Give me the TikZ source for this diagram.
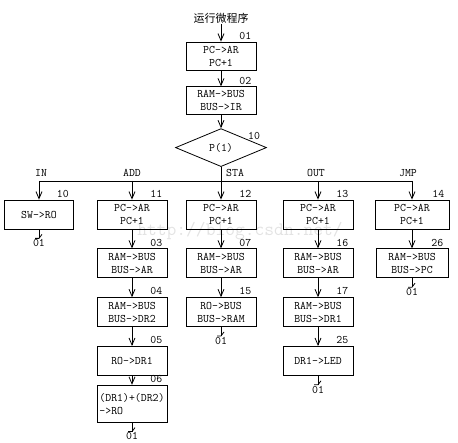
\documentclass[tikz,border=0pt]{standalone}
\usepackage{fontspec}
\newfontfamily\cjk{Noto Sans CJK SC}
\usetikzlibrary{positioning,shapes.geometric,arrows.meta,calc}

\newcommand{\boxfont}{\fontsize{11.5}{13}\selectfont\ttfamily}
% stub that jumps back to 01
\newcommand{\backtoone}[1]{%
  \draw[line] (#1.south) -- ++(0,-9) coordinate (#1end);
  \draw[line] ($(#1end)+(-4,0)$) -- (#1end) -- ++(3,4);
  \node[tag, below=1pt of #1end] (#1ret) {01};
}

\begin{document}
\begin{tikzpicture}[
  x=1pt, y=1pt,
  node distance=19pt,
  line/.style={line width=0.8pt},
  box/.style={rectangle, draw, line width=0.8pt, minimum width=70pt, minimum height=29pt, inner sep=1pt, align=center, font=\boxfont},
  dia/.style={diamond, draw, line width=0.8pt, aspect=2.4, minimum width=91pt, minimum height=38pt, inner sep=0pt, font=\boxfont},
  tag/.style={inner sep=0pt, font=\boxfont},
  num/.style={label={[tag, anchor=south east, xshift=-5pt, yshift=2pt]north east:#1}},
  arrow/.style={line, -{Straight Barb[length=7pt,width=6pt]}}
]
\useasboundingbox (0,0) rectangle (458,443);
\node[text=gray!22, font=\ttfamily\fontsize{19}{19}\selectfont] (mark) at (240,212) {http://blog.csdn.net/};

\node[font={\cjk\fontsize{11}{13}\selectfont}, inner sep=1pt] (title) at (221,425) {运行微程序};
\node[box, num=01, minimum height=28pt] (s01) at (221,387) {PC->AR\\PC+1};
\node[box, num=02, minimum height=28pt, below=16pt of s01] (s02) {RAM->BUS\\BUS->IR};
\node[dia, below=13pt of s02] (p1) {P(1)};
\node[tag] (p1n) at ($(p1)+(33,12)$) {10};
\draw[arrow] (title) -- (s01);
\draw[arrow] (s01) -- (s02);
\draw[arrow] (s02) -- (p1);

% branch bus
\coordinate (bIN) at (39,262);
\coordinate (bADD) at (132,262);
\coordinate (bSTA) at (p1 |- bIN);
\coordinate (bOUT) at (318,262);
\coordinate (bJMP) at (412,262);
\draw[line] (p1.south) -- (bSTA);
\draw[line] (bIN) -- (bJMP);
\node[tag, above=4pt of bIN, xshift=2pt] (lIN) {IN};
\node[tag, above=4pt of bADD] (lADD) {ADD};
\node[tag, above right=4pt and 5pt of bSTA] (lSTA) {STA};
\node[tag, above=4pt of bOUT, xshift=-2pt] (lOUT) {OUT};
\node[tag, above=4pt of bJMP, xshift=-4pt] (lJMP) {JMP};

% IN
\node[box, num=10, minimum width=69pt] (s10) at (39,228.5) {SW->RO};
\draw[arrow] (bIN) -- (s10);
\backtoone{s10}

% ADD
\node[box, num=11] (s11) at (132,228.5) {PC->AR\\PC+1};
\node[box, num=03, below=of s11] (s03) {RAM->BUS\\BUS->AR};
\node[box, num=04, below=of s03] (s04) {RAM->BUS\\BUS->DR2};
\node[box, num=05, below=of s04] (s05) {RO->DR1};
\node[box, num=06, align=left, minimum height=37pt, below=9pt of s05] (s06) {(DR1)+(DR2)\\->RO};
\draw[arrow] (bADD) -- (s11);
\draw[arrow] (s11) -- (s03);
\draw[arrow] (s03) -- (s04);
\draw[arrow] (s04) -- (s05);
\draw[arrow] (s05) -- (s06);
\backtoone{s06}

% STA
\node[box, num=12] (s12) at (bSTA |- s11) {PC->AR\\PC+1};
\node[box, num=07, below=of s12] (s07) {RAM->BUS\\BUS->AR};
\node[box, num=15, below=of s07] (s15) {RO->BUS\\BUS->RAM};
\draw[arrow] (bSTA) -- (s12);
\draw[arrow] (s12) -- (s07);
\draw[arrow] (s07) -- (s15);
\backtoone{s15}

% OUT
\node[box, num=13] (s13) at (318,228.5) {PC->AR\\PC+1};
\node[box, num=16, below=of s13] (s16) {RAM->BUS\\BUS->AR};
\node[box, num=17, below=of s16] (s17) {RAM->BUS\\BUS->DR1};
\node[box, num=25, below=of s17] (s25) {DR1->LED};
\draw[arrow] (bOUT) -- (s13);
\draw[arrow] (s13) -- (s16);
\draw[arrow] (s16) -- (s17);
\draw[arrow] (s17) -- (s25);
\backtoone{s25}

% JMP
\node[box, num=14, minimum width=74pt] (s14) at (412,228.5) {PC->AR\\PC+1};
\node[box, num=26, minimum width=72pt, below=of s14] (s26) {RAM->BUS\\BUS->PC};
\draw[arrow] (bJMP) -- (s14);
\draw[arrow] (s14) -- (s26);
\backtoone{s26}
\end{tikzpicture}
\end{document}
